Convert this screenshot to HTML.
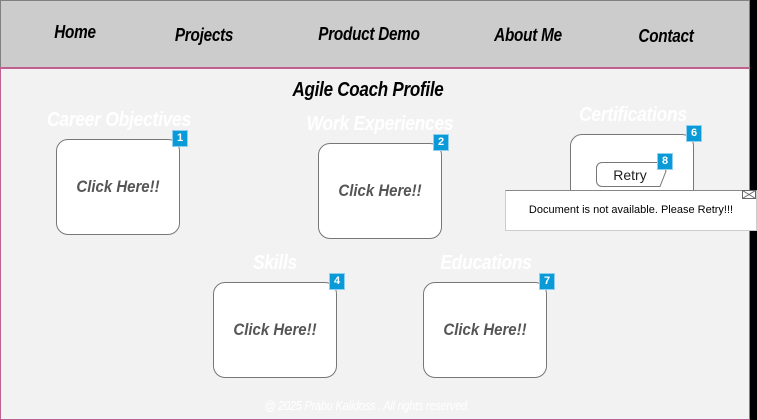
<!DOCTYPE html>
<html><head><meta charset="utf-8"><style>
*{margin:0;padding:0;box-sizing:border-box}
body{width:757px;height:420px;background:#000;position:relative;overflow:hidden;font-family:"Liberation Sans",sans-serif}
.hdr{position:absolute;left:0;top:0;width:750px;height:67px;background:#ccc;border:1px solid #808080;border-bottom:none}
.main{position:absolute;left:0;top:67px;width:750px;height:353px;background:#f2f2f2;border:1.5px solid #c06090;border-top:2px solid #c06090}
.t{position:absolute;white-space:nowrap;font-style:italic;font-weight:bold;transform:translateX(-50%) scaleX(0.85);letter-spacing:-0.3px}
.nav{font-size:18px;color:#000}
.sec{font-size:20.5px;color:#fff}
.box{position:absolute;width:124px;height:96px;background:#fff;border:1px solid #777;border-radius:12px}
.box span{position:absolute;left:0;right:0;top:37px;text-align:center;font-size:17px;font-weight:bold;font-style:italic;color:#555;transform:scaleX(.88)}
.b{position:absolute;width:16px;height:17px;background:#0a9ad8;border:1px solid #8fd0f0;color:#fff;font-size:11px;font-weight:bold;text-align:center;line-height:15px}
</style></head><body>
<div class="hdr"></div>
<div class="main"></div>
<div class="t nav" style="left:75px;top:22px">Home</div>
<div class="t nav" style="left:204px;top:25px">Projects</div>
<div class="t nav" style="left:369px;top:24px">Product Demo</div>
<div class="t nav" style="left:528px;top:25px">About Me</div>
<div class="t nav" style="left:666px;top:26px">Contact</div>
<div class="t" style="left:368px;top:79px;font-size:20px;color:#000">Agile Coach Profile</div>
<div class="t sec" style="left:119px;top:108px">Career Objectives</div>
<div class="t sec" style="left:380px;top:112px">Work Experiences</div>
<div class="t sec" style="left:633px;top:103px">Certifications</div>
<div class="t sec" style="left:275px;top:251px">Skills</div>
<div class="t sec" style="left:486px;top:251px">Educations</div>
<div class="box" style="left:56px;top:139px"><span>Click Here!!</span></div>
<div class="box" style="left:318px;top:143px"><span>Click Here!!</span></div>
<div class="box" style="left:570px;top:134px;height:70px"></div>
<div class="box" style="left:213px;top:282px"><span>Click Here!!</span></div>
<div class="box" style="left:423px;top:282px"><span>Click Here!!</span></div>
<svg style="position:absolute;left:596px;top:162px" width="72" height="26"><path d="M6 .5H66L70 9L64 24.5H6A5.5 5.5 0 0 1 .5 19V6A5.5 5.5 0 0 1 6 .5Z" fill="#fff" stroke="#777"/><text x="34" y="18" text-anchor="middle" font-family="Liberation Sans" font-size="14" fill="#222">Retry</text></svg>
<div class="b" style="left:172px;top:130px">1</div>
<div class="b" style="left:433px;top:134px">2</div>
<div class="b" style="left:686px;top:125px">6</div>
<div class="b" style="left:657px;top:153px">8</div>
<div class="b" style="left:329px;top:273px">4</div>
<div class="b" style="left:539px;top:273px">7</div>
<div style="position:absolute;left:505px;top:190px;width:252px;height:41px;background:#fff;border:1px solid #ccc;border-top:1.5px solid #888"></div>
<div style="position:absolute;left:505px;top:204px;width:252px;text-align:center;font-size:11px;color:#000">Document is not available. Please Retry!!!</div>
<svg style="position:absolute;left:742px;top:190px" width="14" height="9"><rect x=".5" y=".5" width="13" height="8" fill="#fff" stroke="#666"/><path d="M.5 .5L13.5 8.5M13.5 .5L.5 8.5" stroke="#666"/></svg>
<div class="t" style="left:367px;top:398px;font-size:13px;color:#fff;font-weight:normal">@ 2025 Prabu Kalidoss . All rights reserved.</div>
</body></html>
